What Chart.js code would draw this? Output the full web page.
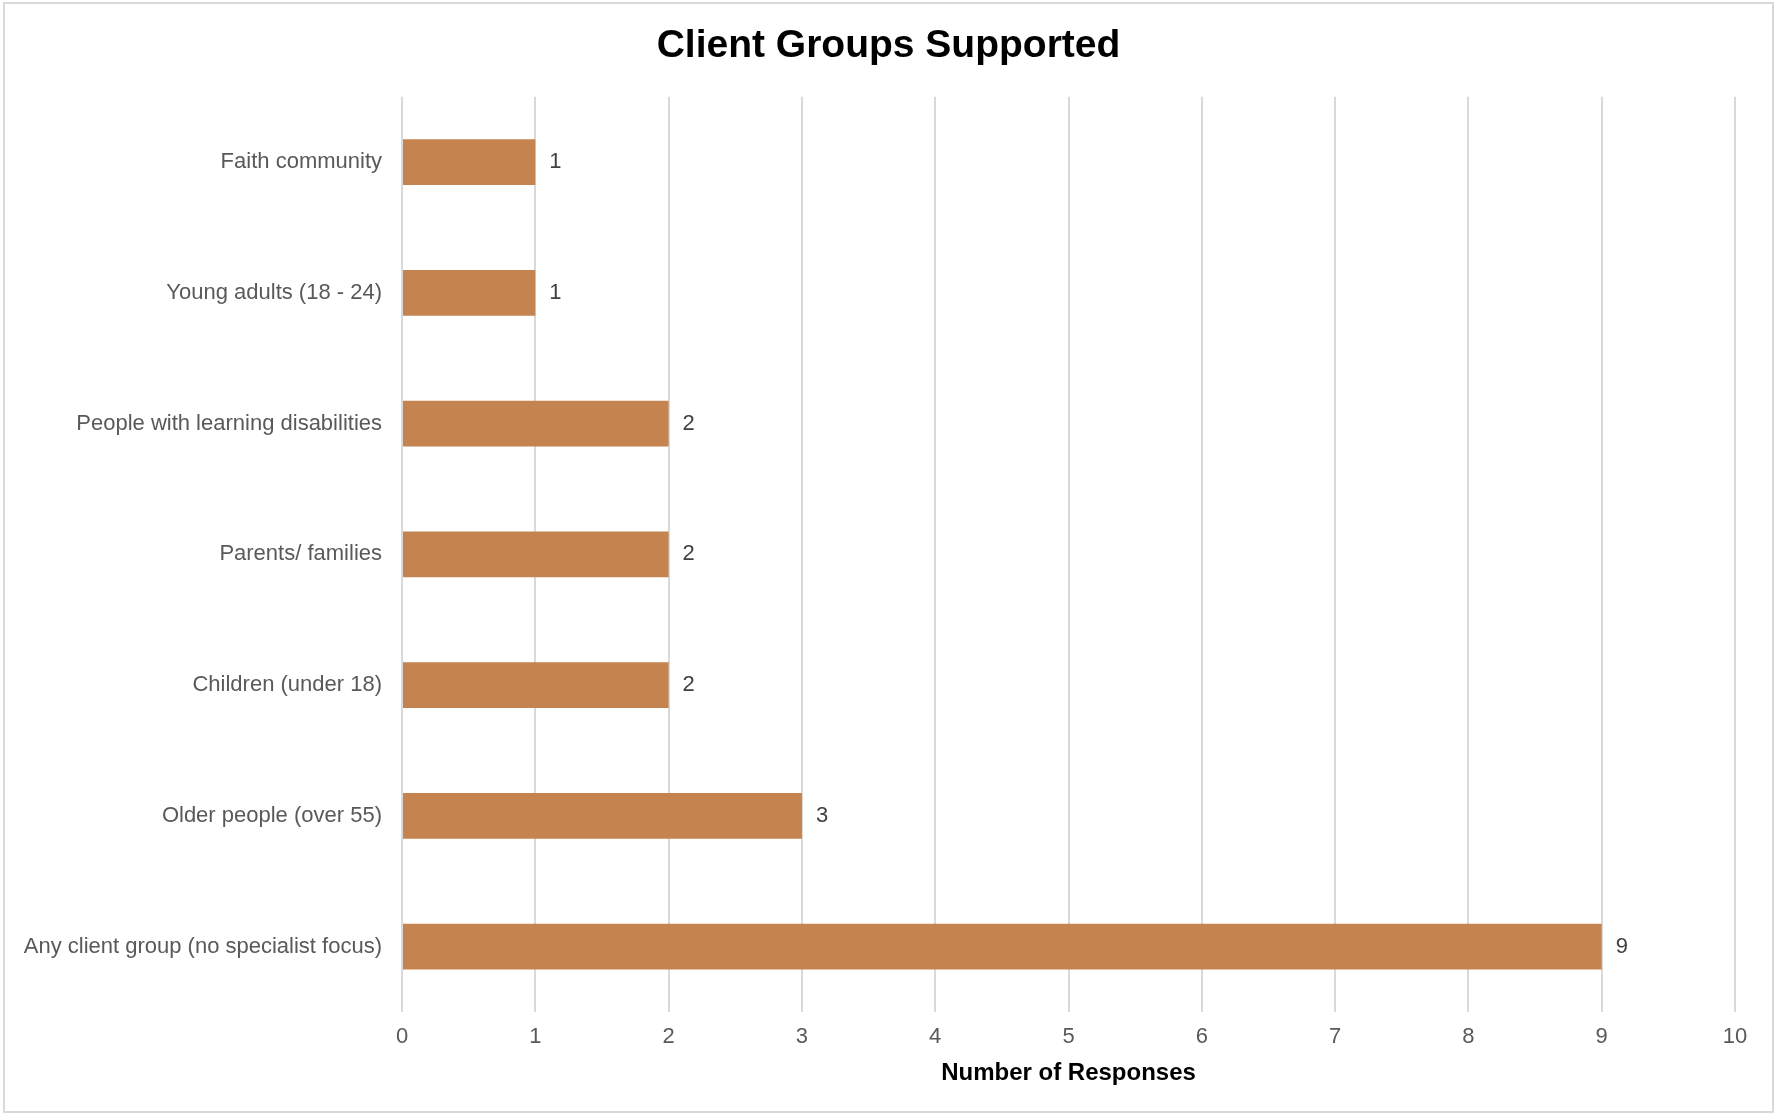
<!DOCTYPE html>
<html>
<head>
<meta charset="utf-8">
<title>Client Groups Supported</title>
<script src="https://cdn.jsdelivr.net/npm/chart.js@4/dist/chart.umd.min.js"></script>
<style>
  html, body { margin: 0; padding: 0; background: #fff; }
  #wrap { position: relative; width: 1777px; height: 1115px; }
  #frame {
    position: absolute; left: 3px; top: 2px; right: 3px; bottom: 2px;
    border: 2px solid #d9d9d9; pointer-events: none;
  }
</style>
</head>
<body>
<div id="wrap">
  <canvas id="clientChart" width="1777" height="1115"></canvas>
  <div id="frame"></div>
</div>
<script>
// Kelompok klien (urut dari atas ke bawah) dan jumlah respons
const groups = [
  'Faith community',
  'Young adults (18 - 24)',
  'People with learning disabilities',
  'Parents/ families',
  'Children (under 18)',
  'Older people (over 55)',
  'Any client group (no specialist focus)'
];
const responses = [1, 1, 2, 2, 2, 3, 9];
const xTicks = [0, 1, 2, 3, 4, 5, 6, 7, 8, 9, 10];

const FONT = "Arial, 'Liberation Sans', sans-serif";

// Tulis angka di ujung kanan tiap batang
const barValueLabels = {
  id: 'barValueLabels',
  afterDatasetsDraw(chart) {
    const ctx = chart.ctx;
    const meta = chart.getDatasetMeta(0);
    ctx.save();
    ctx.font = '22px ' + FONT;
    ctx.fillStyle = '#404040';
    ctx.textAlign = 'left';
    ctx.textBaseline = 'middle';
    meta.data.forEach((bar, i) => {
      ctx.fillText(String(responses[i]), bar.x + 14, bar.y);
    });
    ctx.restore();
  }
};

const ctx = document.getElementById('clientChart').getContext('2d');
new Chart(ctx, {
  type: 'bar',
  data: {
    labels: groups,
    datasets: [{
      data: responses,
      backgroundColor: '#c4834f',
      borderWidth: 0,
      barPercentage: 0.35,
      categoryPercentage: 1
    }]
  },
  options: {
    indexAxis: 'y',
    responsive: false,
    animation: false,
    layout: { padding: 0 },
    plugins: {
      legend: { display: false },
      tooltip: { enabled: false },
      title: {
        display: true,
        text: 'Client Groups Supported',
        color: '#000',
        font: { family: FONT, size: 39, weight: 'bold' },
        padding: { top: 23, bottom: 27 }
      }
    },
    scales: {
      x: {
        min: 0,
        max: 10,
        afterBuildTicks(scale) {
          scale.ticks = xTicks.map(v => ({ value: v }));
        },
        afterFit(scale) { scale.height = 103; },
        grid: { color: '#d9d9d9', lineWidth: 2, drawTicks: false },
        border: { display: false },
        ticks: {
          color: '#595959',
          padding: 12,
          font: { family: FONT, size: 22 }
        },
        title: {
          display: true,
          text: 'Number of Responses',
          color: '#000',
          font: { family: FONT, size: 24, weight: 'bold' },
          padding: { top: 4, bottom: 27 }
        }
      },
      y: {
        afterFit(scale) { scale.width = 402; },
        grid: { display: false, drawTicks: false },
        border: { display: false },
        ticks: {
          color: '#595959',
          padding: 20,
          font: { family: FONT, size: 22 }
        }
      },
      // kolom kosong di kanan supaya judul tetap di tengah kanvas
      yRight: {
        type: 'category',
        position: 'right',
        afterFit(scale) { scale.width = 42; },
        grid: { display: false, drawTicks: false },
        border: { display: false },
        ticks: { display: false }
      }
    }
  },
  plugins: [barValueLabels]
});
</script>
</body>
</html>
